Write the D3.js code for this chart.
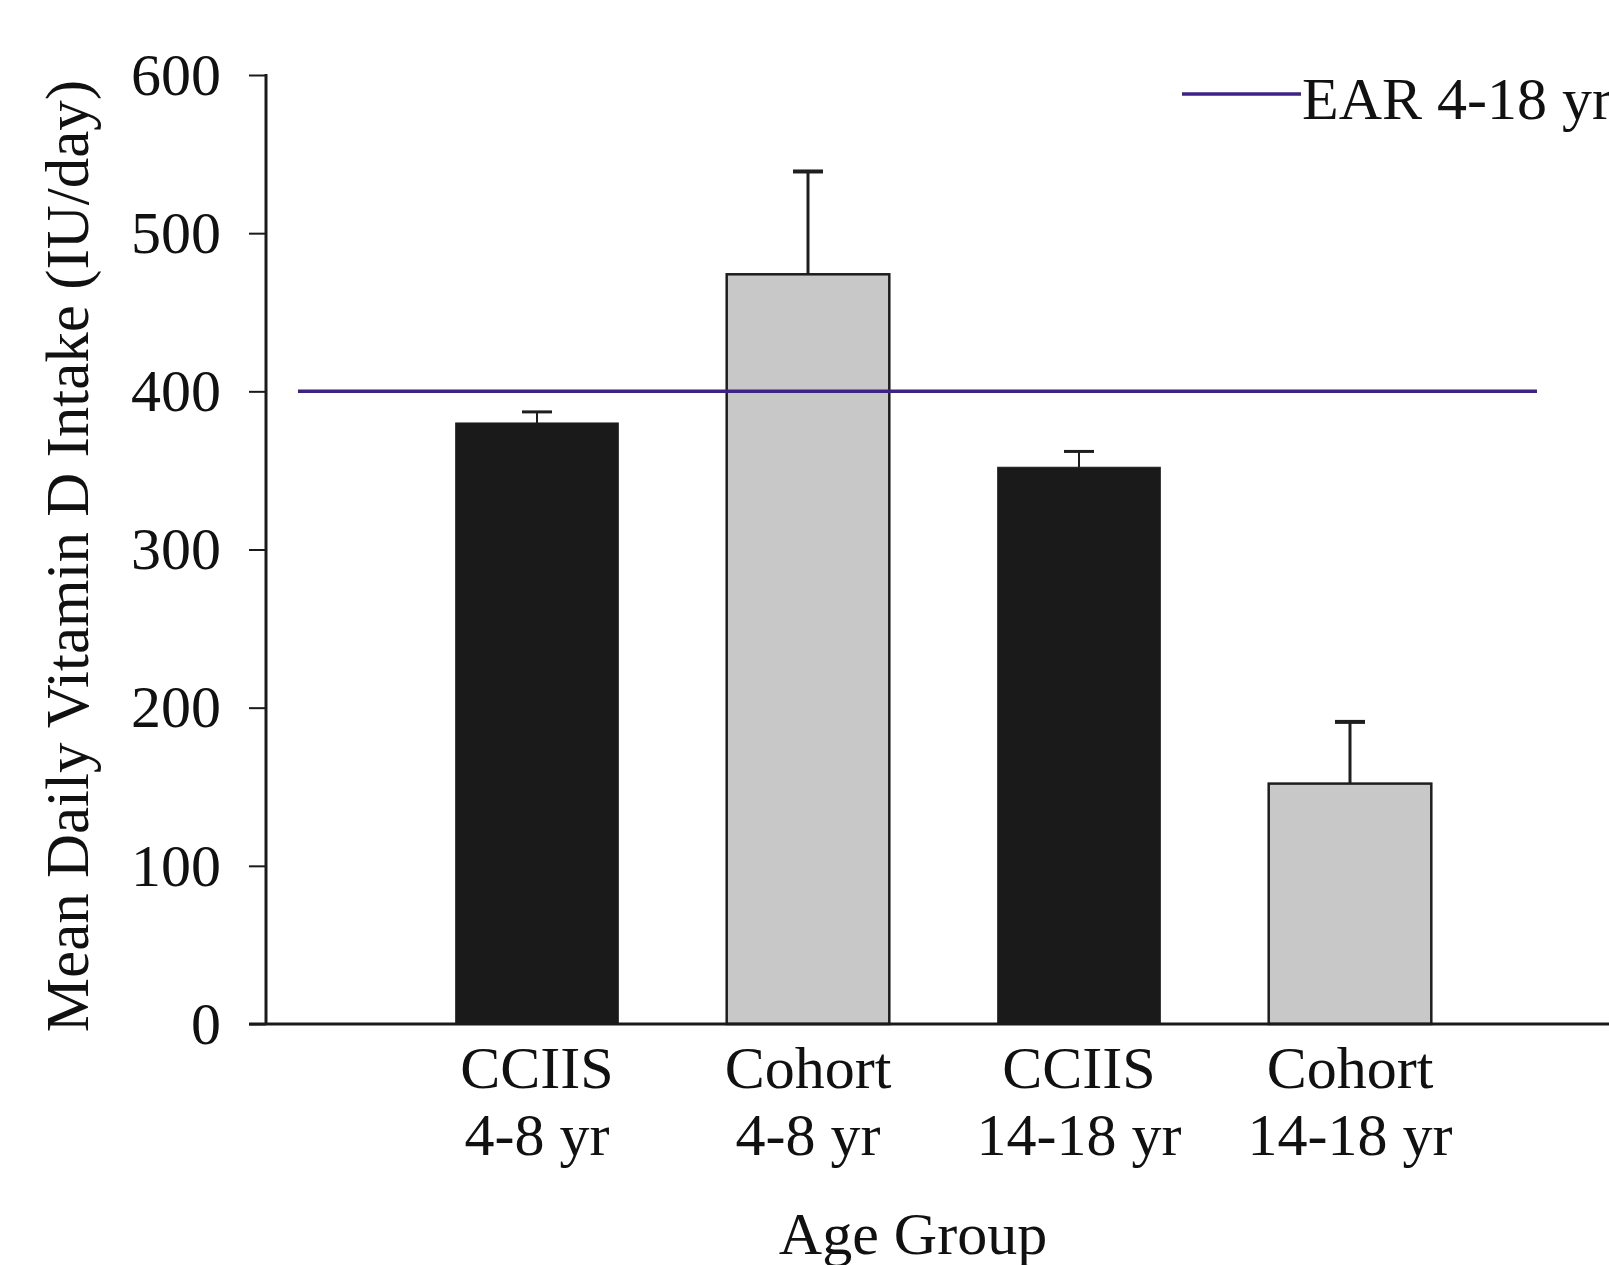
<script src="https://d3js.org/d3.v7.min.js"></script>
<style>
  body { margin: 0; background: #fff; }
  svg text { font-family: "Liberation Serif", "Times New Roman", serif; fill: #111; }
</style>
<svg id="chart"></svg>
<script>
  var width = 1609, height = 1265;

  // data
  var groups = ["CCIIS", "Cohort", "CCIIS", "Cohort"];
  var ages = ["4-8 yr", "4-8 yr", "14-18 yr", "14-18 yr"];
  var means = [380, 474, 352, 152];
  var errs = [7, 65, 10, 39];
  var earValue = 400;
  var yTicks = [0, 100, 200, 300, 400, 500, 600];

  var fillMap = { "CCIIS": "#1a1a1a", "Cohort": "#c8c8c8" };

  var plotLeft = 266, plotBottom = 1024, plotTop = 75;
  var fontSize = 60;

  var svg = d3.select("#chart").attr("width", width).attr("height", height);

  // category position 0 = y axis, bar i sits at i+1
  var xscale = d3.scaleLinear().domain([0, 5]).range([plotLeft, plotLeft + 5 * 271]);
  var yscale = d3.scaleLinear().domain([0, 600]).range([plotBottom, plotTop]);
  var barW = 0.6;

  // bars
  svg.selectAll(".bar")
    .data(means)
    .enter().append("rect")
    .attr("class", "bar")
    .attr("x", function(d, i) { return xscale(i + 1 - barW / 2); })
    .attr("width", xscale(barW) - xscale(0))
    .attr("y", function(d) { return yscale(d); })
    .attr("height", function(d) { return yscale(0) - yscale(d); })
    .attr("fill", function(d, i) { return fillMap[groups[i]]; })
    .attr("stroke", "#1e1e1e")
    .attr("stroke-width", function(d, i) { return groups[i] == "Cohort" ? 2.5 : 1; });

  // error bars (upper only)
  var eb = svg.selectAll(".err").data(means).enter().append("g").attr("class", "err");
  eb.append("line")
    .attr("x1", function(d, i) { return xscale(i + 1); })
    .attr("x2", function(d, i) { return xscale(i + 1); })
    .attr("y1", function(d) { return yscale(d); })
    .attr("y2", function(d, i) { return yscale(d + errs[i]); })
    .attr("stroke", "#1e1e1e")
    .attr("stroke-width", function(d, i) { return groups[i] == "Cohort" ? 3 : 2; });
  eb.append("line")
    .attr("x1", function(d, i) { return xscale(i + 1) - 15; })
    .attr("x2", function(d, i) { return xscale(i + 1) + 15; })
    .attr("y1", function(d, i) { return yscale(d + errs[i]); })
    .attr("y2", function(d, i) { return yscale(d + errs[i]); })
    .attr("stroke", "#1e1e1e")
    .attr("stroke-width", function(d, i) { return groups[i] == "Cohort" ? 4 : 3; });

  // EAR reference line
  svg.append("line")
    .attr("x1", xscale(0.118)).attr("x2", xscale(4.69))
    .attr("y1", yscale(earValue)).attr("y2", yscale(earValue))
    .attr("stroke", "#3f2383").attr("stroke-width", 3.5);

  // y axis
  var yAxis = d3.axisLeft(yscale).tickValues(yTicks).tickSize(17).tickPadding(28);
  var yg = svg.append("g").attr("transform", "translate(" + plotLeft + ",0)").call(yAxis);
  yg.select(".domain").remove();
  yg.selectAll(".tick line").attr("stroke", "#1a1a1a").attr("stroke-width", 2);
  yg.selectAll(".tick text")
    .style("font-family", "'Liberation Serif', serif")
    .style("font-size", fontSize + "px")
    .attr("fill", "#111");
  svg.append("line")
    .attr("x1", plotLeft).attr("x2", plotLeft)
    .attr("y1", yscale(600) - 1).attr("y2", yscale(0))
    .attr("stroke", "#1a1a1a").attr("stroke-width", 3);

  // x axis line
  svg.append("line")
    .attr("x1", plotLeft - 17).attr("x2", width)
    .attr("y1", yscale(0)).attr("y2", yscale(0))
    .attr("stroke", "#1a1a1a").attr("stroke-width", 3);

  // category labels
  var labels = svg.selectAll(".cat").data(groups).enter().append("text")
    .attr("class", "cat")
    .attr("text-anchor", "middle")
    .style("font-size", fontSize + "px");
  labels.append("tspan")
    .attr("x", function(d, i) { return xscale(i + 1); })
    .attr("y", 1088)
    .text(function(d) { return d; });
  labels.append("tspan")
    .attr("x", function(d, i) { return xscale(i + 1); })
    .attr("y", 1155)
    .text(function(d, i) { return ages[i]; });

  // axis titles
  svg.append("text")
    .attr("x", 913).attr("y", 1254)
    .attr("text-anchor", "middle")
    .style("font-size", fontSize + "px")
    .text("Age Group");

  svg.append("text")
    .attr("transform", "translate(88,556) rotate(-90)")
    .attr("text-anchor", "middle")
    .style("font-size", "61px")
    .text("Mean Daily Vitamin D Intake (IU/day)");

  // legend
  svg.append("line")
    .attr("x1", 1182).attr("x2", 1301)
    .attr("y1", 94).attr("y2", 94)
    .attr("stroke", "#3f2383").attr("stroke-width", 3.5);
  svg.append("text")
    .attr("x", 1302).attr("y", 119)
    .style("font-size", fontSize + "px")
    .text("EAR 4-18 yr");
</script>
